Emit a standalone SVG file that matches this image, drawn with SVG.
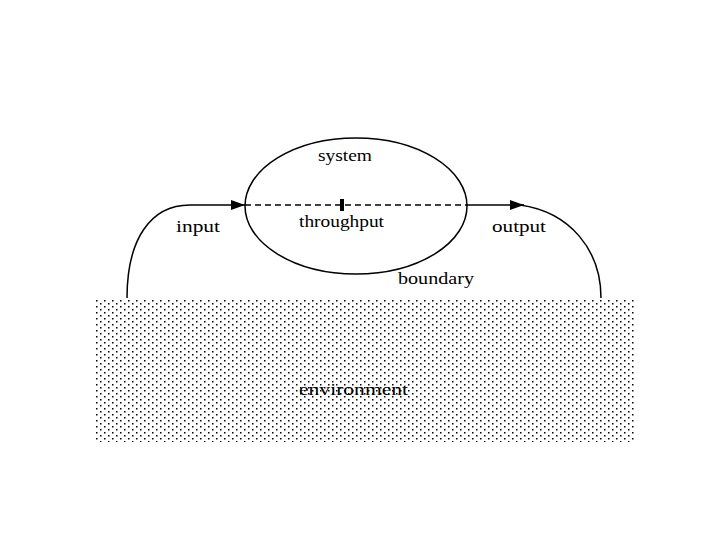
<svg xmlns="http://www.w3.org/2000/svg" width="720" height="540" viewBox="0 0 720 540">
<style>
text{font-family:"Liberation Serif","Times New Roman",serif;font-size:17px;fill:#000}
.ln{fill:none;stroke:#000;stroke-width:1.5}
</style>
<defs>
<pattern id="dots" width="8" height="6" patternUnits="userSpaceOnUse">
<rect x="0" y="0" width="1.5" height="1.5" fill="#000"/>
<rect x="4" y="3" width="1.5" height="1.5" fill="#000"/>
</pattern>
<marker id="arr" markerWidth="14" markerHeight="10" refX="14" refY="5" orient="auto" markerUnits="userSpaceOnUse">
<path d="M0,0 L14,5 L0,10 Z" fill="#000"/>
</marker>
</defs>
<rect width="720" height="540" fill="#fff"/>
<g id="environment">
<rect x="95" y="300" width="539" height="142" fill="url(#dots)"/>
<text x="299" y="395" textLength="109" lengthAdjust="spacingAndGlyphs">environment</text>
</g>
<g id="system">
<ellipse cx="356" cy="206" rx="111" ry="68" class="ln"/>
<text x="318" y="161" textLength="54" lengthAdjust="spacingAndGlyphs">system</text>
<text x="398" y="284" textLength="76" lengthAdjust="spacingAndGlyphs">boundary</text>
</g>
<g id="connectors">
<path d="M127,298 C127,240 150,205 190,205 L245,205" class="ln" marker-end="url(#arr)"/>
<line x1="245" y1="205" x2="467" y2="205" stroke="#000" stroke-width="1.5" stroke-dasharray="6,4"/>
<rect x="340" y="199" width="4" height="12" fill="#000"/>
<line x1="467" y1="205" x2="524" y2="205" class="ln" marker-end="url(#arr)"/>
<path d="M520,205 C570,212 601,250 601,298" class="ln"/>
</g>
<g id="labels">
<text x="176" y="232" textLength="44" lengthAdjust="spacingAndGlyphs">input</text>
<text x="299" y="227" textLength="85" lengthAdjust="spacingAndGlyphs">throughput</text>
<text x="492" y="232" textLength="54" lengthAdjust="spacingAndGlyphs">output</text>
</g>
</svg>
